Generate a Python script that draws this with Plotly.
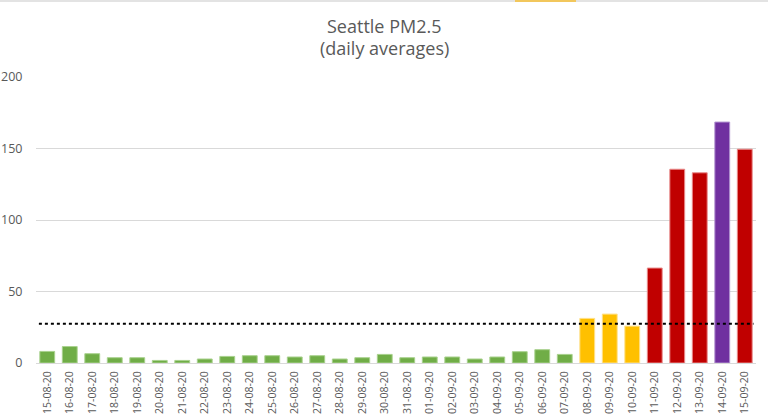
import plotly.graph_objects as go

dates = ["15-08-20", "16-08-20", "17-08-20", "18-08-20", "19-08-20", "20-08-20", "21-08-20",
         "22-08-20", "23-08-20", "24-08-20", "25-08-20", "26-08-20", "27-08-20", "28-08-20",
         "29-08-20", "30-08-20", "31-08-20", "01-09-20", "02-09-20", "03-09-20", "04-09-20",
         "05-09-20", "06-09-20", "07-09-20", "08-09-20", "09-09-20", "10-09-20", "11-09-20",
         "12-09-20", "13-09-20", "14-09-20", "15-09-20"]
pm25 = [8.1, 11.5, 6.5, 3.7, 3.7, 1.8, 1.8, 2.8, 4.6, 5.1, 5.1, 4.2, 5.1, 2.8,
        3.7, 6.0, 3.7, 4.2, 4.2, 2.8, 4.2, 7.9, 9.3, 6.0, 31.2, 34.2, 25.8, 66.4,
        135.5, 133.0, 168.5, 149.5]
threshold = 27.5
y_ticks = [0, 50, 100, 150, 200]
title_lines = ["Seattle PM2.5", "(daily averages)"]


def aqi_color(v):
    if v < 12.1:
        return "#70AD47"
    if v < 35.5:
        return "#FFC000"
    if v < 150.5:
        return "#C00000"
    return "#7030A0"


def aqi_edge(v):
    if v < 12.1:
        return "#A9D18E"
    if v < 35.5:
        return "#FFE08A"
    if v < 150.5:
        return "#E88A8A"
    return "#B294D0"


colors = [aqi_color(v) for v in pm25]
edges = [aqi_edge(v) for v in pm25]

PLOT_H = 418 - 77 - 55

fig = go.Figure()
fig.add_trace(go.Bar(
    x=dates, y=pm25,
    marker=dict(color=colors, line=dict(color=edges, width=1)),
    hoverinfo="x+y",
))

fig.add_shape(type="line", xref="paper", yref="y", x0=0.004, x1=0.9965,
              y0=threshold, y1=threshold,
              line=dict(color="black", width=2, dash="dot"))

# spreadsheet header strip at the very top
fig.add_shape(type="rect", xref="paper", yref="paper", x0=-0.06, x1=1.02,
              y0=1 + 75 / PLOT_H, y1=1 + 77 / PLOT_H, line=dict(width=0),
              fillcolor="#E3E3E3")
fig.add_shape(type="rect", xref="paper", yref="paper", x0=(515 - 36) / 720, x1=(576 - 36) / 720,
              y0=1 + 75 / PLOT_H, y1=1 + 77 / PLOT_H, line=dict(width=0),
              fillcolor="#F2C75C")

for i, (txt, ypx) in enumerate(zip(title_lines, [26, 48])):
    fig.add_annotation(text=txt, xref="paper", yref="paper", x=(384 - 36) / 720,
                       y=1 + (77 - ypx) / PLOT_H, xanchor="center", yanchor="middle",
                       showarrow=False, font=dict(size=18, color="#595959"))

fig.update_layout(
    width=768, height=418,
    margin=dict(l=36, r=12, t=77, b=55),
    paper_bgcolor="white", plot_bgcolor="white",
    bargap=0.34,
    showlegend=False,
    font=dict(family="Open Sans, Liberation Sans, sans-serif", color="#595959"),
    xaxis=dict(type="category", tickangle=-90, tickfont=dict(size=10.5, color="#595959"),
               showgrid=False, showline=True, linecolor="#D9D9D9", linewidth=1,
               ticks="outside", ticklen=3, tickcolor="rgba(0,0,0,0)", automargin=False),
    yaxis=dict(range=[0, 200], tickvals=y_ticks, showgrid=True, gridcolor="#D9D9D9",
               gridwidth=1, zeroline=False, showline=False, automargin=False,
               ticks="outside", ticklen=10, tickcolor="rgba(0,0,0,0)",
               tickfont=dict(size=12.5, color="#595959")),
)

fig.write_html("out.html")
